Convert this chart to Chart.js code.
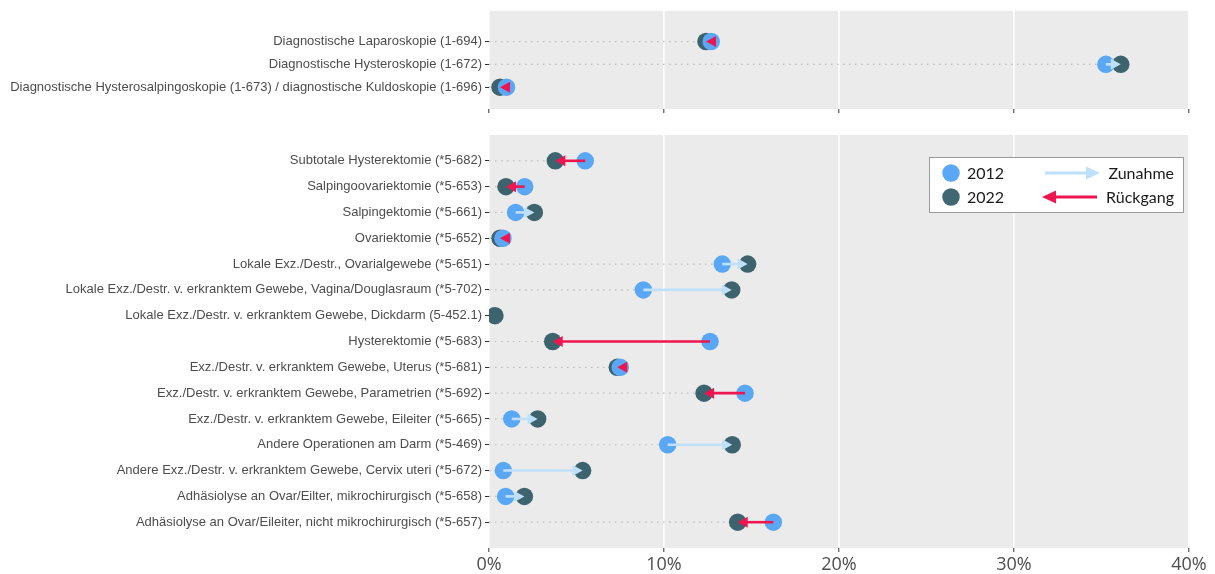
<!DOCTYPE html>
<html><head><meta charset="utf-8">
<script src="https://cdn.jsdelivr.net/npm/chart.js@4.4.1/dist/chart.umd.min.js"></script>
<style>
html,body{margin:0;padding:0;background:#fff;}
#wrap{position:relative;width:1215px;height:574px;overflow:hidden;}
canvas{position:absolute;left:0;}
</style></head>
<body><div id="wrap">
<canvas id="top" width="1215" height="122" style="top:0"></canvas>
<canvas id="bot" width="1215" height="454" style="top:120px"></canvas>
</div>
<script>
const topCategories = [
  "Diagnostische Laparoskopie (1-694)",
  "Diagnostische Hysteroskopie (1-672)",
  "Diagnostische Hysterosalpingoskopie (1-673) / diagnostische Kuldoskopie (1-696)"
];
const top2012 = [12.7, 35.25, 1.0];
const top2022 = [12.4, 36.1, 0.63];

const botCategories = [
  "Subtotale Hysterektomie (*5-682)",
  "Salpingoovariektomie (*5-653)",
  "Salpingektomie (*5-661)",
  "Ovariektomie (*5-652)",
  "Lokale Exz./Destr., Ovarialgewebe (*5-651)",
  "Lokale Exz./Destr. v. erkranktem Gewebe, Vagina/Douglasraum (*5-702)",
  "Lokale Exz./Destr. v. erkranktem Gewebe, Dickdarm (5-452.1)",
  "Hysterektomie (*5-683)",
  "Exz./Destr. v. erkranktem Gewebe, Uterus (*5-681)",
  "Exz./Destr. v. erkranktem Gewebe, Parametrien (*5-692)",
  "Exz./Destr. v. erkranktem Gewebe, Eileiter (*5-665)",
  "Andere Operationen am Darm (*5-469)",
  "Andere Exz./Destr. v. erkranktem Gewebe, Cervix uteri (*5-672)",
  "Adhäsiolyse an Ovar/Eilter, mikrochirurgisch (*5-658)",
  "Adhäsiolyse an Ovar/Eileiter, nicht mikrochirurgisch (*5-657)"
];
const bot2012 = [5.5, 2.04, 1.52, 0.8, 13.33, 8.82, null, 12.63, 7.5, 14.63, 1.3, 10.21, 0.82, 0.95, 16.25];
const bot2022 = [3.79, 0.97, 2.59, 0.63, 14.78, 13.87, 0.34, 3.64, 7.33, 12.29, 2.78, 13.9, 5.35, 2.02, 14.21];

const xTicks = [0, 10, 20, 30, 40];
const seriesNames = ["2012", "2022"];
const arrowNames = ["Zunahme", "Rückgang"];

const C_BLUE = '#5aa8f5';
const C_DARK = 'rgba(21,68,83,0.81)';
const C_UP = '#bfe0fb';
const C_DOWN = '#ee1550';
const PANEL = '#ebebeb';

function pts(arr){ return arr.map((v,i)=> v==null ? null : {x:v, y:i}).filter(p=>p); }

function arrowHead(ctx, tipX, y, dir, len, hw, color){
  ctx.beginPath();
  ctx.moveTo(tipX, y);
  ctx.lineTo(tipX - dir*len, y - hw);
  ctx.lineTo(tipX - dir*len, y + hw);
  ctx.closePath();
  ctx.fillStyle = color;
  ctx.fill();
}

const panelPlugin = {
  id: 'panel',
  beforeDraw(chart){
    const a = chart.chartArea, ctx = chart.ctx;
    ctx.save(); ctx.fillStyle = PANEL; ctx.fillRect(a.left, a.top, a.right-a.left, a.bottom-a.top); ctx.restore();
  },
  beforeDatasetsDraw(chart){
    const o = chart.options.plugins.panel; const ctx = chart.ctx;
    const xs = chart.scales.x, ys = chart.scales.y;
    ctx.save();
    ctx.strokeStyle = '#bdbdbd'; ctx.lineWidth = 1.2; ctx.setLineDash([1.5, 4.5]);
    o.a.forEach((v,i)=>{
      const w = o.b[i];
      const m = Math.min(v==null?Infinity:v, w==null?Infinity:w);
      if(!isFinite(m)) return;
      const y = ys.getPixelForValue(i);
      ctx.beginPath(); ctx.moveTo(xs.getPixelForValue(0), y); ctx.lineTo(xs.getPixelForValue(m), y); ctx.stroke();
    });
    ctx.restore();
  },
  afterDatasetsDraw(chart){
    const o = chart.options.plugins.panel; const ctx = chart.ctx;
    const xs = chart.scales.x, ys = chart.scales.y;
    ctx.save();
    o.a.forEach((v,i)=>{
      const w = o.b[i];
      if(v==null || w==null || v===w) return;
      const y = ys.getPixelForValue(i);
      const x1 = xs.getPixelForValue(v), x2 = xs.getPixelForValue(w);
      const dir = x2 > x1 ? 1 : -1;
      const col = dir > 0 ? C_UP : C_DOWN;
      const len = 10, hw = 5.5;
      if (Math.abs(x2-x1) > len){
        ctx.beginPath(); ctx.strokeStyle = col; ctx.lineWidth = 2.6;
        ctx.moveTo(x1, y); ctx.lineTo(x2 - dir*len + dir*1, y); ctx.stroke();
      }
      arrowHead(ctx, x2, y, dir, len, hw, col);
    });
    ctx.restore();
    if (o.legend) drawLegend(chart);
  }
};

function drawLegend(chart){
  const ctx = chart.ctx;
  ctx.save();
  const L = 929, T = 37, W = 254, H = 55;
  ctx.fillStyle = '#fff'; ctx.fillRect(L, T, W, H);
  ctx.strokeStyle = '#9a9a9a'; ctx.lineWidth = 1; ctx.strokeRect(L+0.5, T+0.5, W, H);
  const y1 = 53, y2 = 77;
  ctx.fillStyle = C_BLUE; ctx.beginPath(); ctx.arc(951, y1, 8.75, 0, Math.PI*2); ctx.fill();
  ctx.fillStyle = C_DARK; ctx.beginPath(); ctx.arc(951, y2, 8.75, 0, Math.PI*2); ctx.fill();
  ctx.font = '16px Lato, "Open Sans", sans-serif'; ctx.fillStyle = '#1a1a1a'; ctx.textBaseline = 'middle';
  ctx.textAlign = 'left';
  ctx.fillText(seriesNames[0], 967, y1+1);
  ctx.fillText(seriesNames[1], 967, y2+1);
  ctx.textAlign = 'right';
  ctx.fillText(arrowNames[0], 1174, y1+1);
  ctx.fillText(arrowNames[1], 1174, y2+1);
  ctx.lineWidth = 3;
  ctx.strokeStyle = C_UP; ctx.beginPath(); ctx.moveTo(1045, y1); ctx.lineTo(1088, y1); ctx.stroke();
  arrowHead(ctx, 1100, y1, 1, 14, 6.5, C_UP);
  ctx.strokeStyle = C_DOWN; ctx.beginPath(); ctx.moveTo(1097, y2); ctx.lineTo(1054, y2); ctx.stroke();
  arrowHead(ctx, 1042, y2, -1, 14, 6.5, C_DOWN);
  ctx.restore();
}

function makeChart(id, cats, a, b, cfg){
  return new Chart(document.getElementById(id), {
    type: 'scatter',
    data: { datasets: [
      { label: seriesNames[0], data: pts(a), backgroundColor: C_BLUE, borderWidth: 0, pointRadius: 8.75, pointHoverRadius: 8.75 },
      { label: seriesNames[1], data: pts(b), backgroundColor: C_DARK, borderWidth: 0, pointRadius: 8.75, pointHoverRadius: 8.75 }
    ]},
    options: {
      responsive: false, animation: false, events: [],
      layout: { padding: { top: cfg.padTop, right: 26, left: 0, bottom: 0 } },
      plugins: { legend: { display: false }, tooltip: { enabled: false }, panel: { a: a, b: b, legend: cfg.legend } },
      scales: {
        x: {
          type: 'linear', min: 0, max: 40,
          afterBuildTicks(s){ s.ticks = xTicks.map(v=>({value:v})); },
          afterFit(s){ s.height = cfg.xHeight; },
          border: { display: false },
          grid: { color: '#ffffff', lineWidth: 1.6, drawTicks: true, tickLength: 4, tickColor: '#333333', tickWidth: 1 },
          ticks: { display: true, padding: 2, color: '#4d4d4d', font: { family: '"Open Sans", sans-serif', size: 18 },
                   maxRotation: 0, callback: v => cfg.xLabels ? v + '%' : '' }
        },
        y: {
          type: 'linear', reverse: true, min: cfg.yMin, max: cfg.yMax,
          afterBuildTicks(s){ s.ticks = cats.map((_,i)=>({value:i})); },
          afterFit(s){ s.width = 489; },
          border: { display: false },
          grid: { drawOnChartArea: false, drawTicks: true, tickLength: 4, tickColor: '#333333', tickWidth: 1 },
          ticks: { autoSkip: false, padding: 3, color: '#4d4d4d', font: { family: '"Liberation Sans", Arial, sans-serif', size: 13 },
                   callback: v => cats[v] }
        }
      }
    },
    plugins: [panelPlugin]
  });
}

makeChart('top', topCategories, top2012, top2022, { padTop: 9, xHeight: 13, yMin: -1.35, yMax: 2.96, xLabels: false, legend: false });
makeChart('bot', botCategories, bot2012, bot2022, { padTop: 15, xHeight: 26, yMin: -1, yMax: 15, xLabels: true, legend: true });
</script>
</body></html>
